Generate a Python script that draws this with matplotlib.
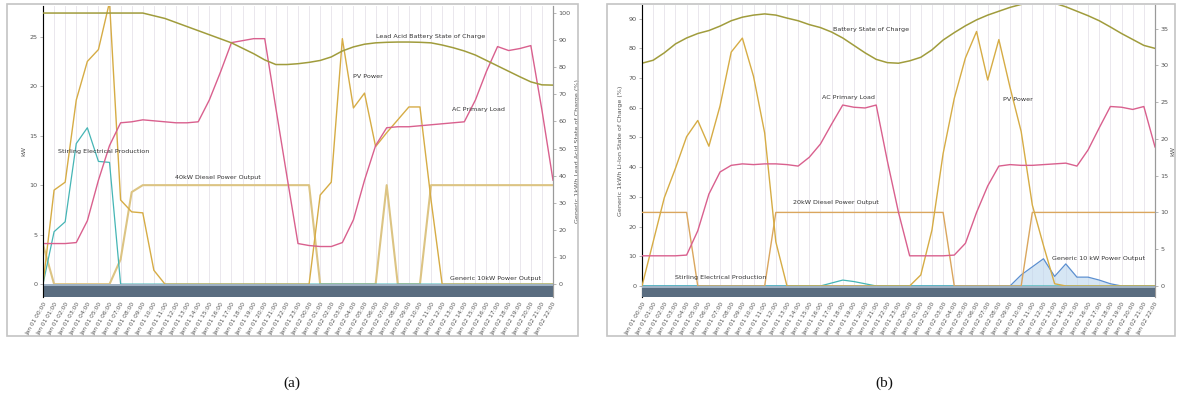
import matplotlib
matplotlib.use("Agg")
import matplotlib.pyplot as plt
from matplotlib.patches import Rectangle

# ---------------------------------------------------------------- data
hours = list(range(47))
time_labels = [f"Jan {1 + h // 24:02d} {h % 24:02d}:00" for h in hours]

# (a) lead-acid system
a_soc = [100, 100, 100, 100, 100, 100, 100, 100, 100, 100, 99, 98, 96.5, 95, 93.5, 92,
         90.5, 89, 87, 85, 82.7, 81, 81, 81.3, 81.8, 82.5, 83.8, 86, 87.5, 88.5, 89, 89.2,
         89.3, 89.3, 89.2, 89, 88.2, 87.2, 86, 84.5, 82.5, 80.5, 78.5, 76.5, 74.6, 73.5, 73.4]
a_pv = [0, 9.5, 10.3, 18.6, 22.5, 23.7, 28.5, 8.5, 7.3, 7.2, 1.4, 0, 0, 0, 0, 0,
        0, 0, 0, 0, 0, 0, 0, 0, 0, 9.0, 10.3, 24.8, 17.8, 19.3, 13.9, 15.3,
        16.6, 17.9, 17.9, 8.5, 0, 0, 0, 0, 0, 0, 0, 0, 0, 0, 0]
a_diesel = [4, 0, 0, 0, 0, 0, 0, 2.5, 9.3, 10, 10, 10, 10, 10, 10, 10,
            10, 10, 10, 10, 10, 10, 10, 10, 10, 0, 0, 0, 0, 0, 0, 10,
            0, 0, 0, 10, 10, 10, 10, 10, 10, 10, 10, 10, 10, 10, 10]
a_load = [4.1, 4.1, 4.1, 4.2, 6.4, 10.5, 14, 16.3, 16.4, 16.6, 16.5, 16.4, 16.3, 16.3, 16.4, 18.6,
          21.4, 24.4, 24.6, 24.8, 24.8, 17.8, 10.9, 4.1, 3.9, 3.8, 3.8, 4.2, 6.5, 10.5, 14, 15.8,
          15.9, 15.9, 16, 16.1, 16.2, 16.3, 16.4, 18.6, 21.5, 24, 23.6, 23.8, 24.1, 17.6, 10.5]
a_stirling = [0, 5.3, 6.3, 14.2, 15.8, 12.4, 12.3, 0, 0, 0, 0, 0, 0, 0, 0, 0,
              0, 0, 0, 0, 0, 0, 0, 0, 0, 0, 0, 0, 0, 0, 0, 0,
              0, 0, 0, 0, 0, 0, 0, 0, 0, 0, 0, 0, 0, 0, 0]

# (b) second system
b_soc = [75, 76, 78.5, 81.5, 83.5, 85, 86, 87.5, 89.3, 90.5, 91.2, 91.6, 91.2, 90.2, 89.3, 88,
         87, 85.5, 83.5, 81, 78.5, 76.3, 75.2, 75, 75.8, 77, 79.5, 82.8, 85.3, 87.6, 89.6, 91.2,
         92.5, 93.8, 94.8, 95.5, 95.6, 95.2, 94, 92.5, 91, 89.3, 87.2, 85, 83, 81, 80]
b_pv = [0, 6, 12, 16, 20.3, 22.5, 19, 24.5, 31.8, 33.7, 28.5, 20.8, 6, 0, 0, 0,
        0, 0, 0, 0, 0, 0, 0, 0, 0, 1.5, 7.6, 18, 25.5, 31, 34.6, 28,
        33.5, 27, 21, 11, 5.5, 0.3, 0, 0, 0, 0, 0, 0, 0, 0, 0]
b_genset = [10, 10, 10, 10, 10, 0, 0, 0, 0, 0, 0, 0, 10, 10, 10, 10,
            10, 10, 10, 10, 10, 10, 10, 10, 10, 10, 10, 10, 0, 0, 0, 0,
            0, 0, 0, 10, 10, 10, 10, 10, 10, 10, 10, 10, 10, 10, 10]
b_load = [4.1, 4.1, 4.1, 4.1, 4.2, 7.5, 12.5, 15.5, 16.4, 16.6, 16.5, 16.6, 16.6, 16.5, 16.3, 17.5,
          19.3, 22, 24.6, 24.3, 24.2, 24.6, 17, 10, 4.1, 4.1, 4.1, 4.1, 4.2, 5.8, 10, 13.6,
          16.3, 16.5, 16.4, 16.4, 16.5, 16.6, 16.7, 16.3, 18.5, 21.5, 24.4, 24.3, 24, 24.4, 18.9]
b_stirling = [0, 0, 0, 0, 0, 0, 0, 0, 0, 0, 0, 0, 0, 0, 0, 0,
              0, 0.4, 0.8, 0.6, 0.3, 0, 0, 0, 0, 0, 0, 0, 0, 0, 0, 0,
              0, 0, 0, 0, 0, 0, 0, 0, 0, 0, 0, 0, 0, 0, 0]
b_generic = [0, 0, 0, 0, 0, 0, 0, 0, 0, 0, 0, 0, 0, 0, 0, 0,
             0, 0, 0, 0, 0, 0, 0, 0, 0, 0, 0, 0, 0, 0, 0, 0,
             0, 0, 1.5, 2.6, 3.7, 1.3, 3.0, 1.2, 1.2, 0.8, 0.3, 0, 0, 0, 0]

# ---------------------------------------------------------------- style
C_SOC = "#a09c3c"
C_PV = "#d6ac45"
C_DIESEL = "#dcc483"
C_GENSET = "#daa65e"
C_LOAD = "#d9608e"
C_STIRLING = "#45b5b5"
C_GENERIC = "#5b8fd0"
C_TICK = "#555555"
FS = 4.6

plt.rcParams["font.family"] = ["DejaVu Sans"]

W, H = 1178, 403
fig = plt.figure(figsize=(W / 100, H / 100), dpi=100)


def fx(px):
    return px / W


def fy(py):
    return 1 - py / H


# panel frames
for x0, x1 in [(7, 578), (607, 1175)]:
    fig.patches.append(Rectangle((fx(x0), fy(336)), fx(x1 - x0), (336 - 4) / H,
                                 transform=fig.transFigure, fill=False,
                                 edgecolor="#c4c4c4", lw=1.2, zorder=0))


def setup(ax, labels):
    ax.set_xlim(0, 46)
    ax.set_xticks(hours)
    ax.set_xticklabels(labels, rotation=60, ha="right", rotation_mode="anchor",
                       fontsize=4.2, color=C_TICK)
    ax.tick_params(axis="x", length=0, pad=3)
    ax.grid(axis="x", color="#e6e3ea", lw=0.6)
    ax.set_axisbelow(True)
    for s in ("top", "bottom"):
        ax.spines[s].set_visible(False)
    for s in ("left", "right"):
        ax.spines[s].set_color("#9a9a9a")
        ax.spines[s].set_linewidth(0.8)


def yticks(ax, vals):
    ax.set_yticks(vals)
    ax.set_yticklabels([str(v) for v in vals], fontsize=FS, color=C_TICK)
    ax.tick_params(axis="y", length=2, width=0.5, color="#999999", pad=2)


def band(ax, bottom):
    ax.axhspan(bottom, 0, color="#5a6d80", zorder=5, lw=0)
    ax.axhspan(bottom * 0.18, 0, color="#9fb2c4", zorder=6, lw=0)


def note(ax, x, y, s, ha="center"):
    ax.text(x, y, s, fontsize=FS, color="#333333", ha=ha, va="center", zorder=8)


# ---------------------------------------------------------------- panel (a)
ax_a = fig.add_axes([fx(43), fy(297), fx(510), 291 / H])
ax_a2 = ax_a.twinx()
setup(ax_a, time_labels)
ax_a.set_ylim(-1.3, 28.1)
ax_a2.set_ylim(-4.8, 102.6)
yticks(ax_a, [0, 5, 10, 15, 20, 25])
yticks(ax_a2, [0, 10, 20, 30, 40, 50, 60, 70, 80, 90, 100])
for s in ("top", "bottom"):
    ax_a2.spines[s].set_visible(False)
ax_a2.spines["right"].set_color("#9a9a9a")

ax_a.plot(hours, a_diesel, color=C_DIESEL, lw=1.5, zorder=3)
ax_a.plot(hours, a_stirling, color=C_STIRLING, lw=0.9, zorder=3)
ax_a.plot(hours, a_pv, color=C_PV, lw=1.0, zorder=3)
ax_a.plot(hours, a_load, color=C_LOAD, lw=1.0, zorder=3)
ax_a2.plot(hours, a_soc, color=C_SOC, lw=1.1, zorder=3)
band(ax_a, -1.3)

ax_a.set_ylabel("kW", fontsize=FS, color=C_TICK, labelpad=2)
ax_a2.set_ylabel("Generic 1kWh Lead Acid State of Charge (%)", fontsize=FS,
                 color=C_TICK, labelpad=3)

note(ax_a2, 35, 91.5, "Lead Acid Battery State of Charge")
note(ax_a, 28, 21, "PV Power", ha="left")
note(ax_a, 39.3, 17.6, "AC Primary Load")
note(ax_a, 5.5, 13.4, "Stirling Electrical Production")
note(ax_a, 15.8, 10.8, "40kW Diesel Power Output")
note(ax_a, 40.8, 0.6, "Generic 10kW Power Output")

# ---------------------------------------------------------------- panel (b)
ax_b = fig.add_axes([fx(642), fy(297), fx(513), 292 / H])
ax_b2 = ax_b.twinx()
setup(ax_b, time_labels)
ax_b.set_ylim(-3.7, 94.6)
ax_b2.set_ylim(-1.5, 38.2)
yticks(ax_b, [0, 10, 20, 30, 40, 50, 60, 70, 80, 90])
yticks(ax_b2, [0, 5, 10, 15, 20, 25, 30, 35])
for s in ("top", "bottom"):
    ax_b2.spines[s].set_visible(False)
ax_b2.spines["right"].set_color("#9a9a9a")

ax_b.plot(hours, b_soc, color=C_SOC, lw=1.1, zorder=3)
ax_b2.fill_between(hours, b_generic, 0, color="#bcd6ee", alpha=0.6, lw=0, zorder=2)
ax_b2.plot(hours, b_generic, color=C_GENERIC, lw=0.9, zorder=3)
ax_b2.plot(hours, b_stirling, color=C_STIRLING, lw=0.9, zorder=3)
ax_b2.plot(hours, b_genset, color=C_GENSET, lw=1.0, zorder=3)
ax_b2.plot(hours, b_pv, color=C_PV, lw=1.0, zorder=3)
ax_b2.plot(hours, b_load, color=C_LOAD, lw=1.0, zorder=3)
band(ax_b2, -1.5)

ax_b.set_ylabel("Generic 1kWh Li-Ion State of Charge (%)", fontsize=FS,
                color=C_TICK, labelpad=4)
ax_b2.set_ylabel("kW", fontsize=FS, color=C_TICK, labelpad=1)

note(ax_b, 20.5, 86.2, "Battery State of Charge")
note(ax_b2, 18.5, 25.6, "AC Primary Load")
note(ax_b2, 33.7, 25.4, "PV Power")
note(ax_b2, 17.4, 11.3, "20kW Diesel Power Output")
note(ax_b2, 7.1, 1.2, "Stirling Electrical Production")
note(ax_b2, 40.9, 3.7, "Generic 10 kW Power Output")

# captions
for cx, s in [(292, "(a)"), (884, "(b)")]:
    fig.text(fx(cx), fy(383), s, ha="center", va="center", fontsize=11,
             family="Liberation Serif", color="#111111")

fig.savefig("out.png", dpi=100, facecolor="white")
